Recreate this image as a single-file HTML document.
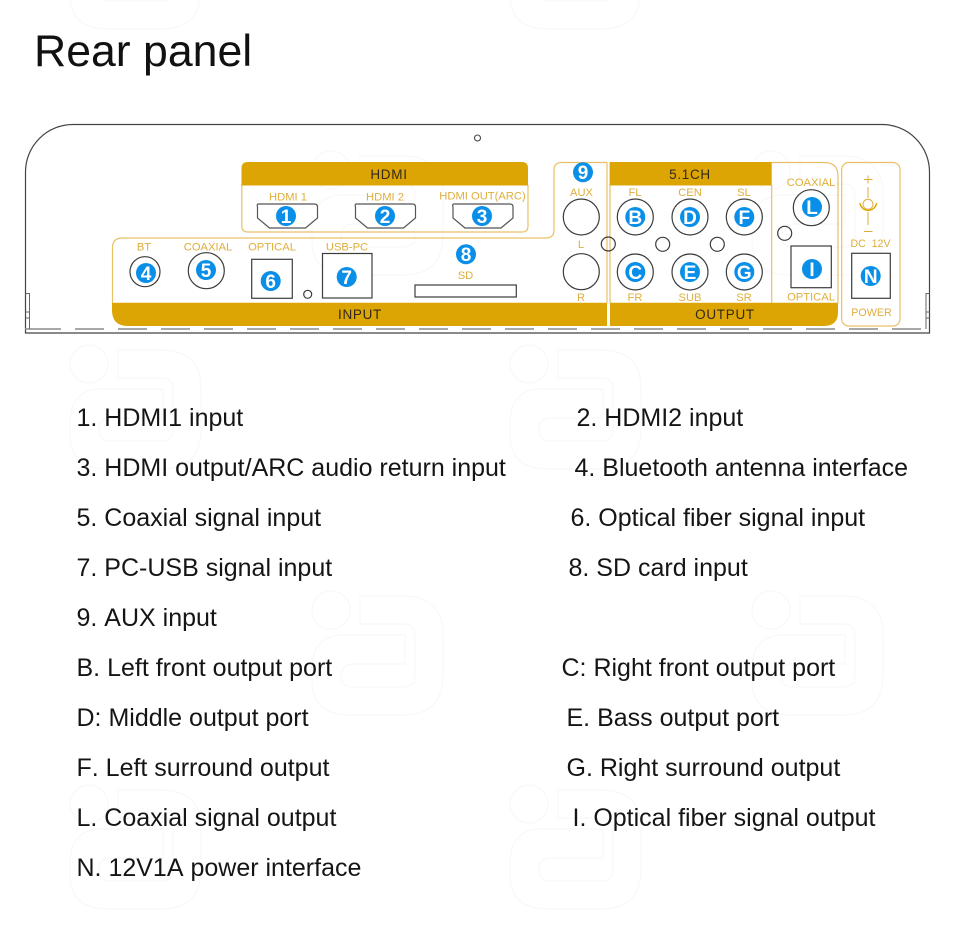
<!DOCTYPE html>
<html><head><meta charset="utf-8"><title>Rear panel</title>
<style>
html,body{margin:0;padding:0;background:#fff;width:960px;height:938px;overflow:hidden}
svg{position:absolute;left:0;top:0}
text{font-family:"Liberation Sans",sans-serif;font-kerning:none;font-variant-ligatures:none}
.t{font-size:25px;fill:#151515}
.g{font-size:11.2px;fill:#dfae3c;text-anchor:middle}
.h{font-size:13.5px;fill:#33291a;text-anchor:middle;letter-spacing:.7px}
.n{font-size:19px;font-weight:bold;fill:#fff;text-anchor:middle}
.c{fill:#fff;stroke:#3c3c3c;stroke-width:1.2}
.o{fill:none;stroke:#e8c068;stroke-width:1.2}
.b{fill:#0a8fe8}
.w{fill:none;stroke:#f8f8f8;stroke-width:1.2}
</style></head><body>
<svg width="960" height="938" viewBox="0 0 960 938" xmlns="http://www.w3.org/2000/svg">
<defs>
<g id="wm" class="w"><circle cx="31" cy="30" r="19"/><path d="M60,16V44H103Q115,44 115,55V97Q115,107 103,107H53Q41,107 41,96Q41,84 53,84H105V55H43Q12,55 12,90V100Q12,135 50,135H103Q143,135 143,95V55Q143,16 103,16Z"/></g>
<path id="hd" d="M2,0H58Q61,0 61,3V14L49,24H13L1,14V3Q0,0 2,0Z" fill="#fff" stroke="#555" stroke-width="1.2"/>
</defs>
<use href="#wm" x="58" y="-106"/><use href="#wm" x="498" y="-106"/>
<use href="#wm" x="300" y="140"/><use href="#wm" x="740" y="140"/>
<use href="#wm" x="58" y="334"/><use href="#wm" x="498" y="334"/>
<use href="#wm" x="300" y="580"/><use href="#wm" x="740" y="580"/>
<use href="#wm" x="58" y="774"/><use href="#wm" x="498" y="774"/>

<text x="34" y="66" font-size="44.6" fill="#111">Rear panel</text>

<!-- chassis -->
<path d="M25.5,333V172A47.5,47.5 0 0 1 73,124.5H882A47.5,47.5 0 0 1 929.5,172V333Z" fill="none" stroke="#444" stroke-width="1.2"/>
<line x1="25" y1="329" x2="61" y2="329" stroke="#8c8c8c" stroke-width="1.5"/>
<line x1="75" y1="329" x2="922" y2="329" stroke="#8c8c8c" stroke-width="1.5" stroke-dasharray="29 14"/>
<path d="M25.5,293.500H29.500V329M25.500,312H29.500M25.500,318H29.500M929.500,293.500H926V329M929.500,312H926M929.500,318H926" fill="none" stroke="#666" stroke-width="1"/>
<circle cx="477.500" cy="138" r="3" fill="#fff" stroke="#444" stroke-width="1.1"/>

<!-- HDMI -->
<path d="M241.800,185V226Q241.800,232 248,232H522Q528,232 528,226V185" class="o"/>
<path d="M241.500,185.500V168Q241.500,162 248,162H522Q528,162 528,168V185.500Z" fill="#dca503"/>
<text x="389" y="178.800" class="h">HDMI</text>
<use href="#hd" x="256.500" y="204"/><use href="#hd" x="354.500" y="204"/><use href="#hd" x="452" y="204"/>
<text x="288" y="200.500" class="g">HDMI 1</text><text x="385" y="200.500" class="g">HDMI 2</text><text x="482.500" y="199.500" class="g">HDMI OUT(ARC)</text>

<!-- INPUT -->
<path d="M112.500,303V248Q112.500,238 122,238H546Q554,238 554,230V170Q554,162.500 562,162.500H607V303" class="o"/>
<path d="M112,302.700H607V326H128Q112,326 112,310Z" fill="#dca503"/>
<text x="360" y="318.800" class="h">INPUT</text>
<text x="144" y="250.500" class="g">BT</text><text x="208" y="250.500" class="g">COAXIAL</text><text x="272" y="250.500" class="g">OPTICAL</text><text x="347" y="250.500" class="g">USB-PC</text>
<circle cx="145" cy="271.700" r="15" class="c"/><circle cx="206.300" cy="270.700" r="18" class="c"/>
<rect x="251.700" y="259.300" width="40.600" height="39" class="c"/>
<circle cx="307.700" cy="294.300" r="4" class="c"/>
<rect x="322.500" y="253.500" width="49.500" height="44.500" class="c"/>
<text x="465.500" y="279" class="g">SD</text>
<rect x="415" y="285" width="101.300" height="12" class="c"/>
<text x="581.500" y="196" class="g">AUX</text><text x="581" y="248" class="g">L</text><text x="581" y="301" class="g">R</text>
<circle cx="581.300" cy="217" r="18" class="c"/><circle cx="581.300" cy="271.700" r="18" class="c"/>

<!-- OUTPUT -->
<path d="M610,162V303" class="o"/>
<path d="M771.700,185V303M771.700,162.500H824Q838,162.500 838,176V303" class="o"/>
<path d="M610,162H771.700V185.500H610Z" fill="#dca503"/>
<path d="M610,302.700H838V312Q838,326 824,326H610Z" fill="#dca503"/>
<text x="690" y="178.800" class="h">5.1CH</text><text x="725" y="318.800" class="h">OUTPUT</text>
<text x="635" y="196" class="g">FL</text><text x="690" y="196" class="g">CEN</text><text x="744" y="196" class="g">SL</text>
<text x="635" y="301" class="g">FR</text><text x="690" y="301" class="g">SUB</text><text x="744" y="301" class="g">SR</text>
<g class="c"><circle cx="635.300" cy="217" r="18"/><circle cx="635.300" cy="272" r="18"/><circle cx="690" cy="217" r="18"/><circle cx="690" cy="272" r="18"/><circle cx="744.300" cy="217" r="18"/><circle cx="744.300" cy="272" r="18"/>
<circle cx="662.700" cy="244.300" r="7"/><circle cx="717.300" cy="244.300" r="7"/><circle cx="811.300" cy="207.700" r="18"/></g>
<circle cx="608.300" cy="244" r="7" fill="none" stroke="#3c3c3c" stroke-width="1.2"/>
<circle cx="784.700" cy="233.300" r="7" class="c"/>
<text x="811" y="186" class="g">COAXIAL</text><text x="811" y="300.500" class="g">OPTICAL</text>
<rect x="791" y="246" width="40.300" height="41.700" class="c"/>

<!-- POWER -->
<rect x="841.700" y="162.500" width="58.300" height="163.500" rx="7" class="o"/>
<path d="M864,179.500H872.500M868,175.500V183.500M868,187V198M868,212V225M864,231.500H872.500" fill="none" stroke="#dfae3c" stroke-width="1"/>
<circle cx="868" cy="204.300" r="5" fill="none" stroke="#dfae3c" stroke-width="1"/>
<path d="M860,203A8.300,8.300 0 0 0 876.500,203" fill="none" stroke="#dca503" stroke-width="1.4"/>
<text x="870.500" y="247" class="g" style="font-size:10.6px">DC&#160;&#160;12V</text>
<rect x="851.700" y="253.300" width="38.600" height="45" class="c"/>
<text x="871.500" y="316" class="g" style="font-size:10.7px">POWER</text>

<!-- blue badges -->
<g class="b">
<circle cx="286" cy="216" r="10"/><circle cx="385" cy="216" r="10"/><circle cx="482" cy="216" r="10"/>
<circle cx="146" cy="273" r="10"/><circle cx="206" cy="270" r="10"/><circle cx="270.700" cy="281" r="10"/><circle cx="346.700" cy="277" r="10"/>
<circle cx="466" cy="254.300" r="10"/><circle cx="583" cy="172.300" r="10"/>
<circle cx="635.300" cy="217" r="10"/><circle cx="635.300" cy="272" r="10"/><circle cx="690" cy="217" r="10"/><circle cx="690" cy="272" r="10"/><circle cx="744.300" cy="217" r="10"/><circle cx="744.300" cy="272" r="10"/>
<circle cx="812" cy="207" r="10"/><circle cx="812" cy="269" r="10"/><circle cx="870.700" cy="276" r="10"/>
</g>
<g class="n">
<text x="286" y="222.800">1</text><text x="385" y="222.800">2</text><text x="482" y="222.800">3</text>
<text x="146" y="279.800">4</text><text x="206" y="276.800">5</text><text x="270.700" y="287.800">6</text><text x="346.700" y="283.800">7</text>
<text x="466" y="261">8</text><text x="583" y="179">9</text>
<text x="635.300" y="223.800">B</text><text x="635.300" y="278.800">C</text><text x="690" y="223.800">D</text><text x="690" y="278.800">E</text><text x="744.300" y="223.800">F</text><text x="744.300" y="278.800">G</text>
<text x="812" y="213.800">L</text><text x="812" y="275.800">I</text><text x="870.700" y="282.800">N</text>
</g>

<!-- list -->
<g class="t">
<text x="76.500" y="426">1. HDMI1 input</text><text x="576.500" y="426">2. HDMI2 input</text>
<text x="76.500" y="476">3. HDMI output/ARC audio return input</text><text x="574.500" y="476">4. Bluetooth antenna interface</text>
<text x="76.500" y="526">5. Coaxial signal input</text><text x="570.500" y="526">6. Optical fiber signal input</text>
<text x="76.500" y="576">7. PC-USB signal input</text><text x="568.500" y="576">8. SD card input</text>
<text x="76.500" y="626">9. AUX input</text>
<text x="76.500" y="676">B. Left front output port</text><text x="561.500" y="676">C: Right front output port</text>
<text x="76.500" y="726">D: Middle output port</text><text x="566.500" y="726">E. Bass output port</text>
<text x="76.500" y="776">F. Left surround output</text><text x="566.500" y="776">G. Right surround output</text>
<text x="76.500" y="826">L. Coaxial signal output</text><text x="572.500" y="826">I. Optical fiber signal output</text>
<text x="76.500" y="876">N. 12V1A power interface</text>
</g>
</svg>
</body></html>
